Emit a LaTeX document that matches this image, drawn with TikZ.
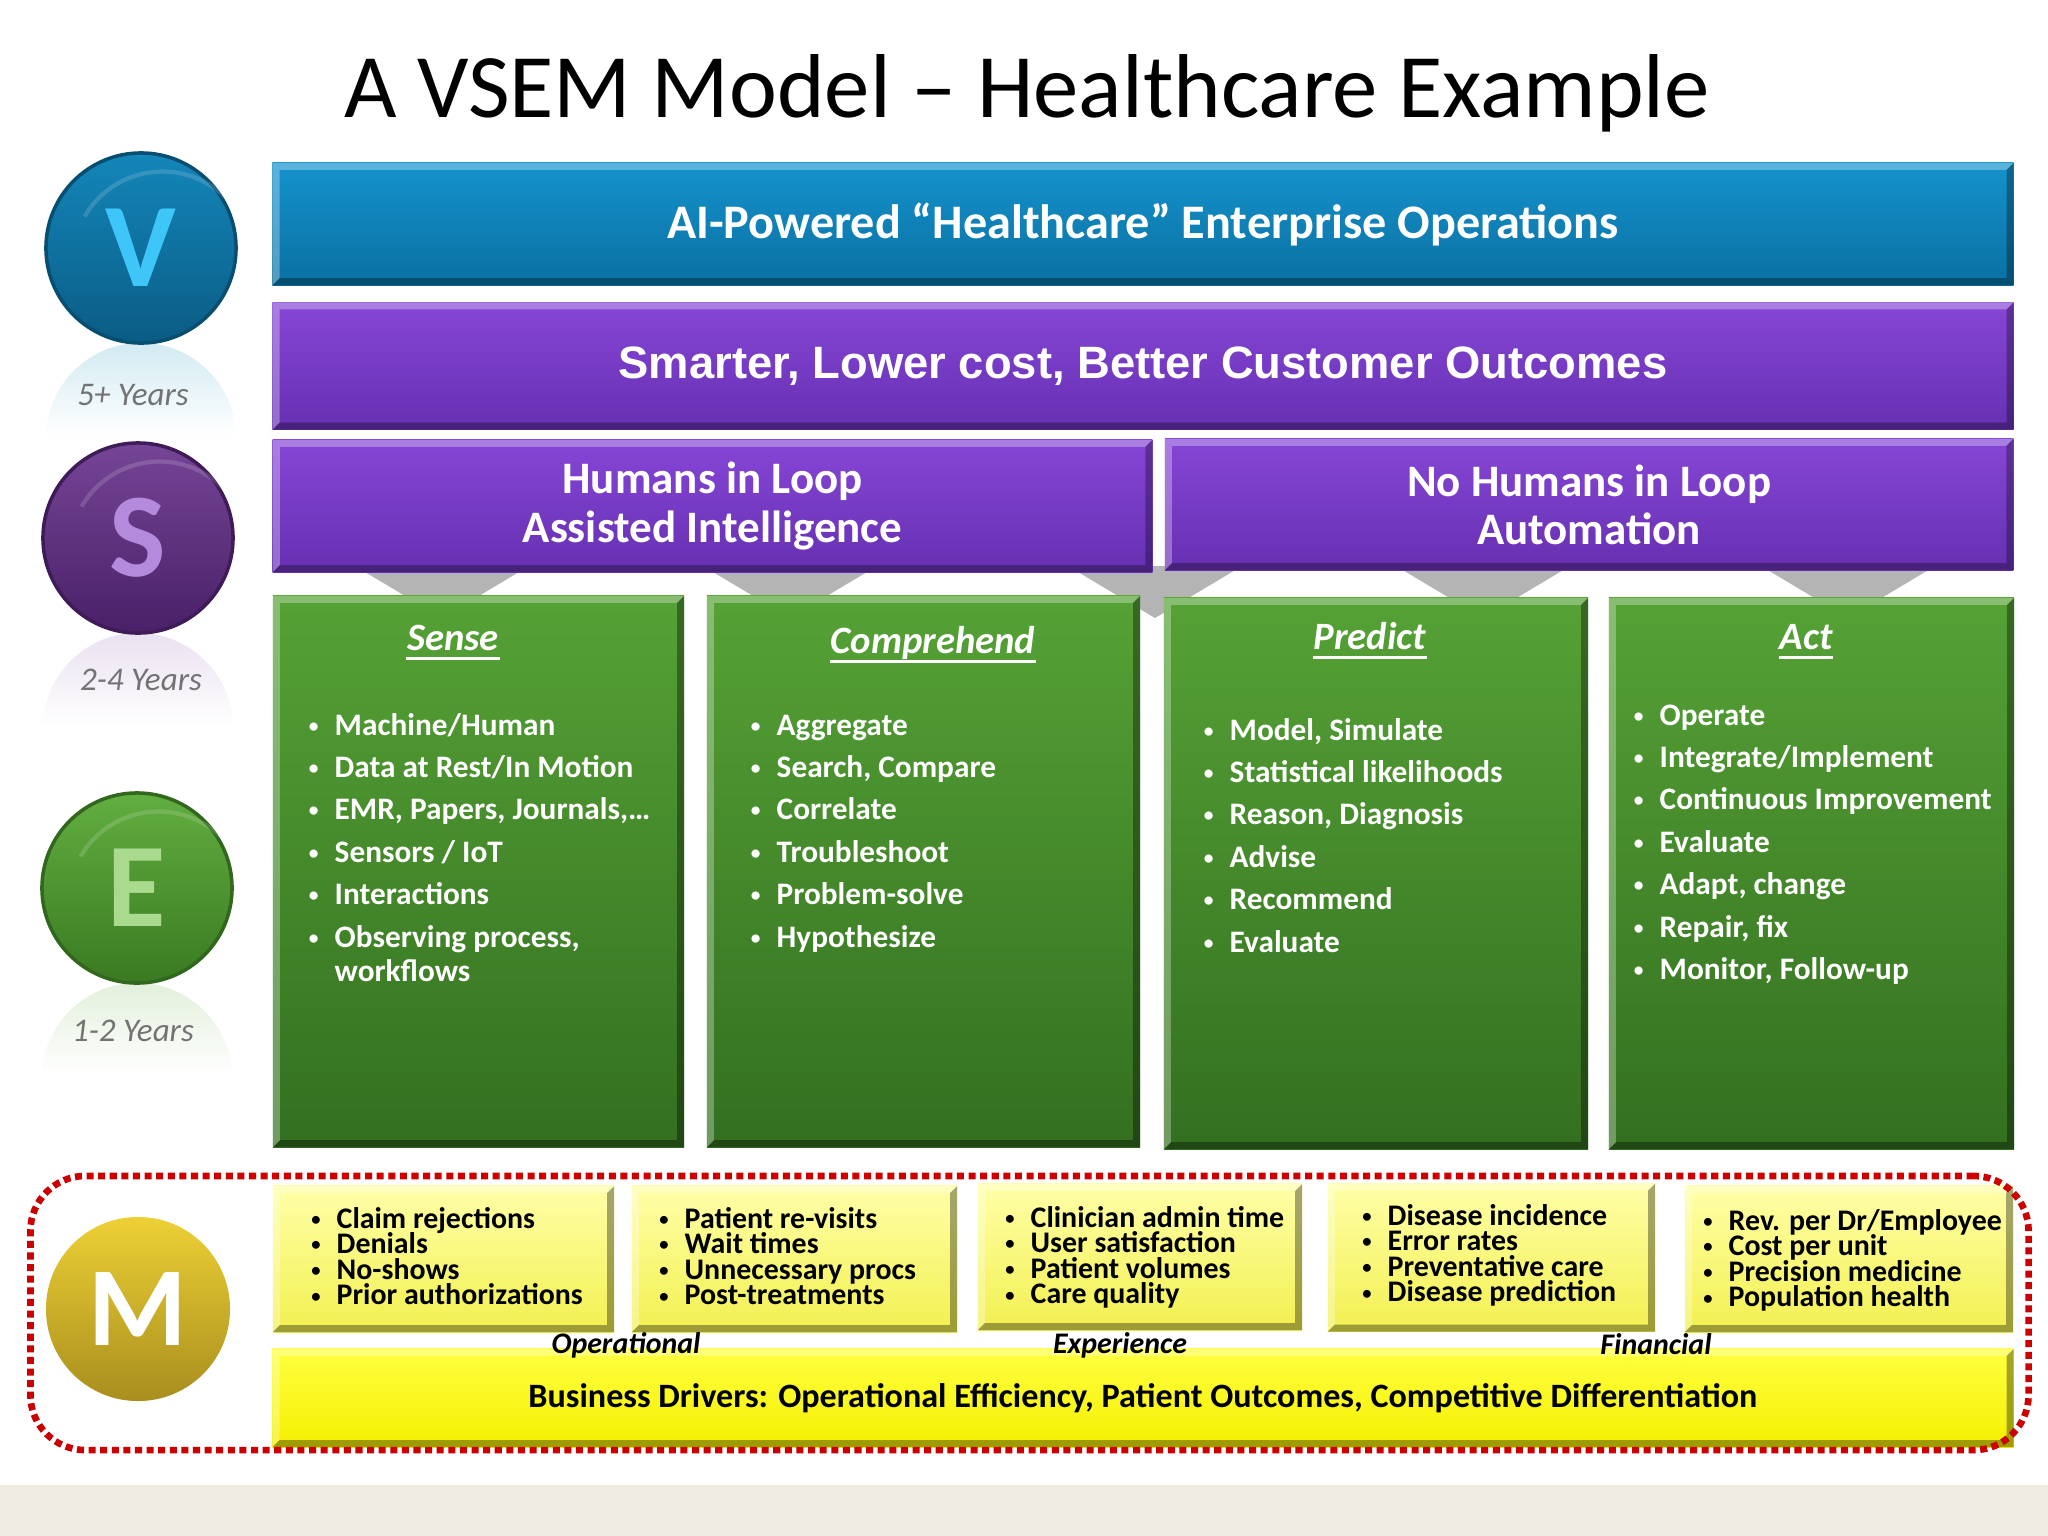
\documentclass[tikz,border=0pt]{standalone}
\usepackage{fontspec}
\setmainfont{Carlito}
\newfontfamily\arialfont{Liberation Sans}
\definecolor{bluT}{HTML}{1592CC}
\definecolor{bluB}{HTML}{0A70A2}
\definecolor{purT}{HTML}{8646D6}
\definecolor{purB}{HTML}{6630B2}
\definecolor{grnT}{HTML}{56A236}
\definecolor{grnB}{HTML}{336F20}
\definecolor{yelT}{HTML}{FFFFA8}
\definecolor{yelB}{HTML}{F2F050}
\definecolor{ybarT}{HTML}{FFFF40}
\definecolor{ybarB}{HTML}{F4F000}
\definecolor{chev}{HTML}{B4B4B4}
\definecolor{dred}{HTML}{CC0000}
\definecolor{strip}{HTML}{EDEBE2}
\definecolor{vT}{HTML}{1486BA}\definecolor{vB}{HTML}{0A5C84}\definecolor{vL}{HTML}{3DC6F7}\definecolor{vR}{HTML}{D2EAF2}
\definecolor{sT}{HTML}{754596}\definecolor{sB}{HTML}{4A2068}\definecolor{sL}{HTML}{B48BDC}\definecolor{sR}{HTML}{EAE1F0}
\definecolor{eT}{HTML}{62AE40}\definecolor{eB}{HTML}{3A7A22}\definecolor{eL}{HTML}{A9DA8E}\definecolor{eR}{HTML}{E3F0DC}
\definecolor{mT}{HTML}{EDD035}\definecolor{mB}{HTML}{A88E1E}
\definecolor{yrs}{HTML}{737373}
\newcommand\bul{\makebox[0pt][r]{\raisebox{0.09em}{\scalebox{0.62}{\textbullet}}\hspace{4.6pt}}}
\tikzset{
  bevel/.style={path picture={
    \path (path picture bounding box.south west) coordinate (bSW)
          (path picture bounding box.north east) coordinate (bNE)
          (path picture bounding box.north west) coordinate (bNW)
          (path picture bounding box.south east) coordinate (bSE);
    \fill[black,opacity=#1] (bSW) -- (bSE) -- (bNE) -- ([shift={(-0.07cm,-0.07cm)}]bNE)
       -- ([shift={(-0.07cm,0.07cm)}]bSE) -- ([shift={(0.07cm,0.07cm)}]bSW) -- cycle;
    \fill[white,opacity=0.3] (bSW) -- (bNW) -- (bNE) -- ([shift={(-0.07cm,-0.07cm)}]bNE)
       -- ([shift={(0.07cm,-0.07cm)}]bNW) -- ([shift={(0.07cm,0.07cm)}]bSW) -- cycle;
  }},
  bevel/.default=0.3,
  box/.style={rectangle, inner sep=0pt, draw=none},
  bluebar/.style={box, top color=bluT, bottom color=bluB, bevel, text=white,
    font=\bfseries\fontsize{13.7}{15}\selectfont},
  purbar/.style={box, top color=purT, bottom color=purB, bevel, text=white, align=center},
  grnbox/.style={box, top color=grnT, bottom color=grnB, bevel=0.35},
  yelbox/.style={box, top color=yelT, bottom color=yelB, bevel=0.35},
  ybar/.style={box, top color=ybarT, bottom color=ybarB, bevel=0.35,
    font=\bfseries\fontsize{9.7}{11}\selectfont},
  gtitle/.style={anchor=base, inner sep=0pt, text=white, font=\bfseries\itshape\fontsize{11}{13}\selectfont},
  gitem/.style={anchor=base west, inner sep=0pt, text=white, font=\bfseries\fontsize{8.9}{10}\selectfont},
  yitem/.style={anchor=base west, inner sep=0pt, text=black, font=\bfseries\fontsize{8.5}{10}\selectfont},
  ylabel/.style={anchor=base, inner sep=0pt, text=black, font=\bfseries\itshape\fontsize{8.5}{10}\selectfont},
  years/.style={anchor=base, inner sep=0pt, text=yrs, font=\itshape\fontsize{9.4}{11}\selectfont},
  ball/.style n args={3}{circle, minimum size=1.9cm, inner sep=0pt, top color=#1, bottom color=#2,
    text=#3, draw=#2!85!black, line width=1pt, font=\bfseries\fontsize{34}{34}\selectfont},
}
\begin{document}
\begin{tikzpicture}[x=0.01cm,y=-0.01cm]
\useasboundingbox (0,0) rectangle (2048,1536);
\fill[white] (0,0) rectangle (2048,1536);
\fill[strip] (0,1485) rectangle (2048,1536);

% title
\node[anchor=base, inner sep=0pt, font=\fontsize{25.8}{30}\selectfont] (title) at (1027,117)
  {A VSEM Model – Healthcare Example};

% reflections below the balls
\begin{scope}\clip (141,438) circle[radius=0.95cm];
  \shade[top color=vR, bottom color=white] (40,343) rectangle (242,436);\end{scope}
\begin{scope}\clip (138,728) circle[radius=0.95cm];
  \shade[top color=sR, bottom color=white] (40,633) rectangle (242,726);\end{scope}
\begin{scope}\clip (137,1078) circle[radius=0.95cm];
  \shade[top color=eR, bottom color=white] (40,983) rectangle (242,1076);\end{scope}

% grey chevrons
\foreach \c in {442,790,1155,1483,1848}
  \fill[chev] ({\c-87},566) -- ({\c+87},566) -- (\c,618) -- cycle;

% bars
\node[bluebar, minimum width=17.40cm, minimum height=1.22cm] (vision) at (1143,224)
  {AI-Powered “Healthcare” Enterprise Operations};
\node[purbar, minimum width=17.40cm, minimum height=1.27cm,
  font=\arialfont\bfseries\fontsize{12.9}{15}\selectfont] (strategy) at (1143,366)
  {Smarter, Lower cost, Better Customer Outcomes};
\node[purbar, minimum width=8.79cm, minimum height=1.32cm,
  font=\bfseries\fontsize{12.8}{14}\selectfont] (humans) at (712.5,506)
  {Humans in Loop\\Assisted Intelligence};
\node[purbar, minimum width=8.48cm, minimum height=1.31cm,
  font=\bfseries\fontsize{12.8}{13.6}\selectfont] (nohumans) at (1589,504.5)
  {No Humans in Loop\\Automation};

% green boxes
\node[grnbox, minimum width=4.11cm, minimum height=5.51cm] (gSense) at (478.5,871.5) {};
\node[grnbox, minimum width=4.33cm, minimum height=5.51cm] (gComp) at (923.5,871.5) {};
\node[grnbox, minimum width=4.24cm, minimum height=5.51cm] (gPred) at (1376,873.5) {};
\node[grnbox, minimum width=4.05cm, minimum height=5.51cm] (gAct) at (1811.5,873.5) {};

\node[gtitle] (tSense) at (453,650) {Sense};
\node[gtitle] (tComp) at (933,653) {Comprehend};
\node[gtitle] (tPred) at (1370,649) {Predict};
\node[gtitle] (tAct) at (1806,649) {Act};
\foreach \t in {tSense,tComp,tPred,tAct}
  \draw[white, line width=0.9pt] ([yshift=-2.4pt]\t.base west) -- ([yshift=-2.4pt]\t.base east);

\foreach \t [count=\i] in {Machine/Human, Data at Rest/In Motion, {EMR, Papers, Journals,…},
    Sensors / IoT, Interactions, {Observing process,}}
  \node[gitem] (sense\i) at (334,{735+(\i-1)*42.4}) {\bul\t};
\node[gitem] (sense7) at (334,981) {workflows};
\foreach \t [count=\i] in {Aggregate, {Search, Compare}, Correlate, Troubleshoot, Problem-solve, Hypothesize}
  \node[gitem] (comp\i) at (776,{735+(\i-1)*42.4}) {\bul\t};
\foreach \t [count=\i] in {{Model, Simulate}, Statistical likelihoods, {Reason, Diagnosis}, Advise, Recommend, Evaluate}
  \node[gitem] (pred\i) at (1229,{740+(\i-1)*42.4}) {\bul\t};
\foreach \t [count=\i] in {Operate, Integrate/Implement, Continuous Improvement, Evaluate, {Adapt, change},
    {Repair, fix}, {Monitor, Follow-up}}
  \node[gitem] (act\i) at (1659,{725+(\i-1)*42.4}) {\bul\t};

% yellow metric boxes
\node[yelbox, minimum width=3.41cm, minimum height=1.46cm] (y1) at (443.5,1259) {};
\node[yelbox, minimum width=3.25cm, minimum height=1.46cm] (y2) at (794.5,1259) {};
\node[yelbox, minimum width=3.24cm, minimum height=1.46cm] (y3) at (1140,1257) {};
\node[yelbox, minimum width=3.27cm, minimum height=1.48cm] (y4) at (1491.5,1257.5) {};
\node[yelbox, minimum width=3.28cm, minimum height=1.46cm] (y5) at (1849,1259) {};

\foreach \t [count=\i] in {Claim rejections, Denials, No-shows, Prior authorizations}
  \node[yitem] (ya\i) at (336,{1228+(\i-1)*25.6}) {\bul\t};
\foreach \t [count=\i] in {Patient re-visits, Wait times, Unnecessary procs, Post-treatments}
  \node[yitem] (yb\i) at (684,{1228+(\i-1)*25.6}) {\bul\t};
\foreach \t [count=\i] in {Clinician admin time, User satisfaction, Patient volumes, Care quality}
  \node[yitem] (yc\i) at (1030,{1227+(\i-1)*25.6}) {\bul\t};
\foreach \t [count=\i] in {Disease incidence, Error rates, Preventative care, Disease prediction}
  \node[yitem] (yd\i) at (1387,{1225+(\i-1)*25.6}) {\bul\t};
\foreach \t [count=\i] in {Rev. per Dr/Employee, Cost per unit, Precision medicine, Population health}
  \node[yitem] (ye\i) at (1728,{1230+(\i-1)*25.6}) {\bul\t};

\node[ybar, minimum width=17.40cm, minimum height=0.98cm] (drivers) at (1143,1398)
  {Business Drivers: Operational Efficiency, Patient Outcomes, Competitive Differentiation};

\node[ylabel] (lOp) at (626,1353) {Operational};
\node[ylabel] (lEx) at (1120,1353) {Experience};
\node[ylabel] (lFi) at (1656,1354) {Financial};

% red dotted frame
\node[draw=dred, line width=1.9pt, dash pattern=on 2pt off 1.3pt, rounded corners=0.55cm,
  minimum width=19.97cm, minimum height=2.74cm, inner sep=0pt] (mframe) at (1029.5,1313) {};

% balls
\node[ball={vT}{vB}{vL}] (V) at (141,248) {V};
\node[ball={sT}{sB}{sL}] (S) at (138,538) {S};
\node[ball={eT}{eB}{eL}] (E) at (137,888) {E};
\node[ball={mT}{mB}{white}, minimum size=1.84cm, draw=none, font=\bfseries\fontsize{32}{32}\selectfont] (M) at (138,1309) {M};
\foreach \b in {V,S,E}
  \draw[white, opacity=0.15, line width=1.2pt] ([yshift=-0.12cm]\b.north west) ++(0.12cm,-0.25cm)
    arc[start angle=150, end angle=30, radius=0.9cm];

\node[years] (y5p) at (133,405) {5+ Years};
\node[years] (y24) at (141,690) {2-4 Years};
\node[years] (y12) at (133,1041) {1-2 Years};
\end{tikzpicture}
\end{document}
